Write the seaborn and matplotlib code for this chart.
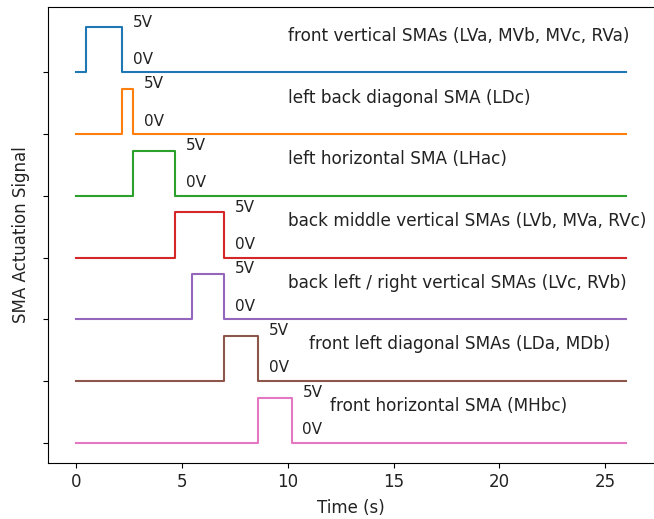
import numpy as np
import pandas as pd
import matplotlib
matplotlib.use("Agg")
import matplotlib.pyplot as plt
import seaborn as sns

# ---- data ----
signal_names = [
    "front vertical SMAs (LVa, MVb, MVc, RVa)",
    "left back diagonal SMA (LDc)",
    "left horizontal SMA (LHac)",
    "back middle vertical SMAs (LVb, MVa, RVc)",
    "back left / right vertical SMAs (LVc, RVb)",
    "front left diagonal SMAs (LDa, MDb)",
    "front horizontal SMA (MHbc)",
]
rise_times = [0.5, 2.2, 2.7, 4.7, 5.5, 7.0, 8.6]
fall_times = [2.2, 2.7, 4.7, 7.0, 7.0, 8.6, 10.2]
label_x = [10, 10, 10, 10, 10, 11, 12]
x_ticks = [0, 5, 10, 15, 20, 25]
t_start, t_end = 0.0, 26.0
high_volt = 5.0
offset_step = 6.85
colors = sns.color_palette("tab10", 7)

rows = []
n = len(signal_names)
for i, name in enumerate(signal_names):
    base = (n - 1 - i) * offset_step
    r, f = rise_times[i], fall_times[i]
    for t, v in [(t_start, 0), (r, 0), (r, high_volt), (f, high_volt), (f, 0), (t_end, 0)]:
        rows.append({"Time": t, "Signal": v + base, "name": name})
df = pd.DataFrame(rows)

fig = plt.figure(figsize=(6.54, 5.19), dpi=100)
W, H = 654, 519
left, right, top, bottom = 48.3, 654.0, 6.7, 463.3
ax = fig.add_axes([left / W, 1 - bottom / H, (right - left) / W, (bottom - top) / H])

sns.lineplot(data=df, x="Time", y="Signal", hue="name", palette=colors,
             sort=False, estimator=None, legend=False, linewidth=1.5, ax=ax)

txt_color = "#222222"
for i, name in enumerate(signal_names):
    base = (n - 1 - i) * offset_step
    f = fall_times[i]
    ax.text(f + 0.5, base + high_volt + 0.6, "5V", va="center", ha="left", fontsize=11, color=txt_color)
    ax.text(f + 0.5, base + 1.45, "0V", va="center", ha="left", fontsize=11, color=txt_color)
    ax.text(label_x[i], base + 4.05, name, va="center", ha="left", fontsize=12.2, color=txt_color)

ax.set_yticks([(n - 1 - i) * offset_step for i in range(n)])
ax.set_yticklabels([])
ax.set_xticks(x_ticks)
ax.set_xlabel("Time (s)", fontsize=12, labelpad=6, color=txt_color)
ax.set_ylabel("SMA Actuation Signal", fontsize=12, labelpad=6.5, color=txt_color)
ax.spines["right"].set_visible(False)
ax.tick_params(labelsize=12, labelcolor=txt_color)

fig.savefig("out.png", dpi=100)
